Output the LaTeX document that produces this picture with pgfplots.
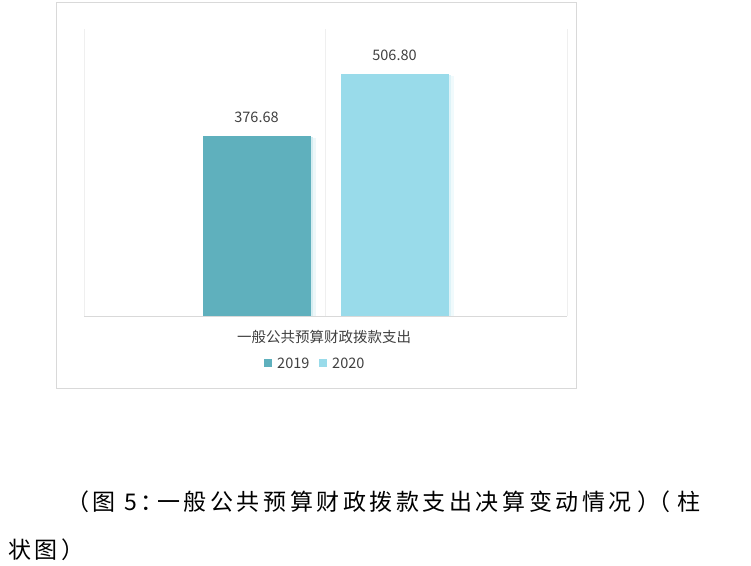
\documentclass[border=0pt]{standalone}
\usepackage{fontspec}
\setmainfont{Noto Sans CJK SC}
\usepackage{pgfplots}
\pgfplotsset{compat=1.18}
\definecolor{cA}{HTML}{5FB0BD}
\definecolor{cB}{HTML}{99DBEA}
\definecolor{txt}{HTML}{404040}
\definecolor{framec}{HTML}{D9D9D9}
\definecolor{gridc}{HTML}{EFEFEF}
\definecolor{shA}{HTML}{D6EDF1}
\definecolor{shAl}{HTML}{EDF7F9}
\definecolor{shB}{HTML}{DDF3F8}
\definecolor{shBl}{HTML}{F0FAFC}
\newcommand\lab{\fontsize{14.5pt}{17pt}\selectfont}
\newcommand\capf{\fontsize{23pt}{26pt}\selectfont\addfontfeatures{LetterSpace=15.5}}
\begin{document}
\begin{tikzpicture}[x=1pt,y=1pt]
\path[use as bounding box] (0,0) rectangle (751,-565);
\draw[framec, line width=1.2pt] (56.5,-2.5) rectangle (576.5,-388.5);
\begin{axis}[at={(84pt,-316pt)}, anchor=south west,
  width=483pt, height=287pt, scale only axis,
  xmin=-0.5, xmax=0.5, ymin=0, ymax=601,
  axis line style={draw=none},
  xtick={-0.5,0,0.5}, xticklabels={}, ytick=\empty,
  xmajorgrids, major grid style={gridc, line width=0.8pt},
  major tick length=0pt,
  ybar, bar width=108pt, clip=false,
  /pgf/number format/assume math mode=true]
\addplot[forget plot, fill=shAl, draw=none, bar shift=-64pt] coordinates {(0,373)};
\addplot[forget plot, fill=shA, draw=none, bar shift=-66.5pt] coordinates {(0,375)};
\addplot[forget plot, fill=shBl, draw=none, bar shift=74pt] coordinates {(0,503)};
\addplot[forget plot, fill=shB, draw=none, bar shift=71.5pt] coordinates {(0,505)};
\addplot[fill=cA, draw=none, bar shift=-69pt,
  nodes near coords={\pgfmathprintnumber[fixed,fixed zerofill,precision=2]{\pgfplotspointmeta}},
  nodes near coords style={font=\lab, text=txt, anchor=center, yshift=19pt}]
  coordinates {(0,376.68)};
\addplot[fill=cB, draw=none, bar shift=69pt,
  nodes near coords={\pgfmathprintnumber[fixed,fixed zerofill,precision=2]{\pgfplotspointmeta}},
  nodes near coords style={font=\lab, text=txt, anchor=center, yshift=19pt}]
  coordinates {(0,506.80)};
\draw[framec, line width=1pt] (axis cs:-0.5,0) -- (axis cs:0.5,0);
\end{axis}
\node[font=\lab, text=txt, inner sep=0] at (324,-337) {一般公共预算财政拨款支出};
\fill[cA] (264,-359) rectangle (272,-367);
\node[font=\lab, text=txt, inner sep=0, anchor=west] at (277,-363) {2019};
\fill[cB] (319,-359) rectangle (327,-367);
\node[font=\lab, text=txt, inner sep=0, anchor=west] at (332,-363) {2020};
\node[anchor=base west, inner sep=0] at (66,-510) {\capf （图};
\node[anchor=base west, inner sep=0] at (124,-510) {\capf 5：};
\node[anchor=base west, inner sep=0] at (157,-510) {\capf 一般公共预算财政拨款支出决算变动情况};
\node[anchor=base west, inner sep=0] at (637,-510) {\capf ）};
\node[anchor=base west, inner sep=0] at (647,-510) {\capf （};
\node[anchor=base west, inner sep=0] at (677,-510) {\capf 柱};
\node[anchor=base west, inner sep=0] at (8,-558) {\capf 状图）};
\end{tikzpicture}
\end{document}
